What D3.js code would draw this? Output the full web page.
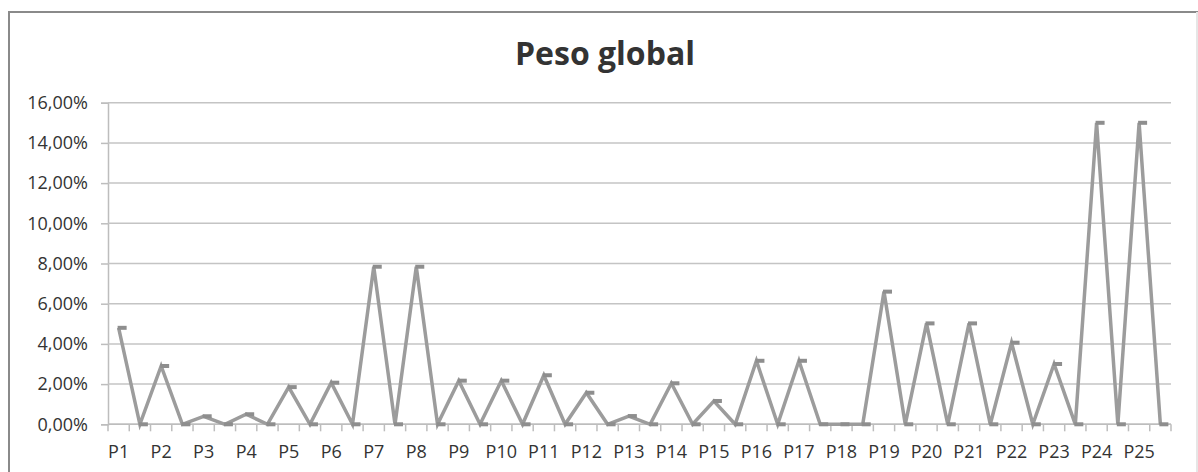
<!DOCTYPE html>
<html>
<head>
<meta charset="utf-8">
<script src="https://cdn.jsdelivr.net/npm/d3@7"></script>
<style>
  html, body { margin: 0; padding: 0; background: #fff; }
  svg { display: block; }
  text { font-family: "Open Sans", Carlito, Calibri, sans-serif; fill: #333; }
</style>
</head>
<body>
<svg id="chart" width="1198" height="472"></svg>
<script>
// Category labels: each criterion is followed by an unlabeled spacer slot
const categories = [
  "P1", "", "P2", "", "P3", "", "P4", "", "P5", "",
  "P6", "", "P7", "", "P8", "", "P9", "", "P10", "",
  "P11", "", "P12", "", "P13", "", "P14", "", "P15", "",
  "P16", "", "P17", "", "P18", "", "P19", "", "P20", "",
  "P21", "", "P22", "", "P23", "", "P24", "", "P25", ""
];

// Global weight per slot (fraction)
const pesoGlobal = [
  0.0480, 0, 0.0290, 0, 0.0040, 0, 0.0050, 0, 0.0185, 0,
  0.0207, 0, 0.0784, 0, 0.0784, 0, 0.0217, 0, 0.0217, 0,
  0.0244, 0, 0.0157, 0, 0.0041, 0, 0.0204, 0, 0.0116, 0,
  0.0316, 0, 0.0316, 0, 0.0000, 0, 0.0660, 0, 0.0502, 0,
  0.0502, 0, 0.0406, 0, 0.0300, 0, 0.1500, 0, 0.1500, 0
];

const yTicks = [0, 0.02, 0.04, 0.06, 0.08, 0.10, 0.12, 0.14, 0.16];
const chartTitle = "Peso global";

const FONT = "'Open Sans', Carlito, Calibri, sans-serif";
const svg = d3.select("#chart");
const W = 1198, H = 472;
const plot = { left: 108, right: 1171, top: 102.7, bottom: 424.3 };

// Chart area frame
svg.append("rect")
  .attr("x", 9).attr("y", 12)
  .attr("width", 1188).attr("height", 470)
  .attr("fill", "#fff")
  .attr("stroke", "#8a8a8a").attr("stroke-width", 2);
svg.append("line")
  .attr("x1", 1197).attr("x2", 1197).attr("y1", 12).attr("y2", H)
  .attr("stroke", "#e6e6e6").attr("stroke-width", 2);

const x = d3.scaleBand()
  .domain(categories.map((c, i) => i))
  .range([plot.left, plot.right])
  .paddingInner(0).paddingOuter(0);

const y = d3.scaleLinear()
  .domain([0, 0.16])
  .range([plot.bottom, plot.top]);

const pct = v => d3.format(".2f")(v * 100).replace(".", ",") + "%";

// Horizontal gridlines and y axis
const yAxis = d3.axisLeft(y)
  .tickValues(yTicks)
  .tickFormat(pct)
  .tickSize(7)
  .tickPadding(13);
const gy = svg.append("g")
  .attr("transform", `translate(${plot.left},0)`)
  .call(yAxis);
gy.select(".domain").attr("stroke", "#bdbdbd").attr("stroke-width", 1.5);
gy.selectAll(".tick line").attr("stroke", "#bdbdbd").attr("stroke-width", 1.5);
gy.selectAll(".tick text")
  .attr("font-size", 18).attr("fill", "#383838")
  .attr("font-family", FONT);

svg.append("g")
  .selectAll("line")
  .data(yTicks)
  .join("line")
  .attr("x1", plot.left).attr("x2", plot.right)
  .attr("y1", d => y(d)).attr("y2", d => y(d))
  .attr("stroke", "#c4c4c4").attr("stroke-width", 1.5);

// X axis: tick marks between categories, labels centered in slots
const gx = svg.append("g")
  .attr("transform", `translate(0,${plot.bottom})`);
const boundaries = categories.map((c, i) => x(i)).concat([plot.right]);
gx.selectAll("line.tick")
  .data(boundaries)
  .join("line")
  .attr("class", "tick")
  .attr("x1", d => d).attr("x2", d => d)
  .attr("y1", 0).attr("y2", 7)
  .attr("stroke", "#bdbdbd").attr("stroke-width", 1.5);
gx.append("line")
  .attr("x1", plot.left).attr("x2", plot.right)
  .attr("y1", 0).attr("y2", 0)
  .attr("stroke", "#bdbdbd").attr("stroke-width", 1.5);
gx.selectAll("text")
  .data(categories.map((c, i) => ({ c, i })).filter(d => d.c !== ""))
  .join("text")
  .attr("x", d => x(d.i) + x.bandwidth() / 2)
  .attr("y", 34)
  .attr("text-anchor", "middle")
  .attr("font-size", 18)
  .attr("fill", "#383838")
  .text(d => d.c);

// Series line
const cx = i => x(i) + x.bandwidth() / 2;
const line = d3.line()
  .x((d, i) => cx(i))
  .y(d => y(d));
svg.append("path")
  .datum(pesoGlobal)
  .attr("d", line)
  .attr("fill", "none")
  .attr("stroke", "#9c9c9c")
  .attr("stroke-width", 3.5)
  .attr("stroke-linejoin", "miter");

// Dash markers
svg.append("g")
  .selectAll("rect")
  .data(pesoGlobal)
  .join("rect")
  .attr("x", (d, i) => cx(i) - 1)
  .attr("y", d => y(d) - 2)
  .attr("width", 9)
  .attr("height", 4)
  .attr("fill", "#8e8e8e");

// Title
svg.append("text")
  .attr("x", 605).attr("y", 65)
  .attr("text-anchor", "middle")
  .attr("font-size", 32)
  .attr("font-weight", "bold")
  .attr("fill", "#000")
  .text(chartTitle);
</script>
</body>
</html>
